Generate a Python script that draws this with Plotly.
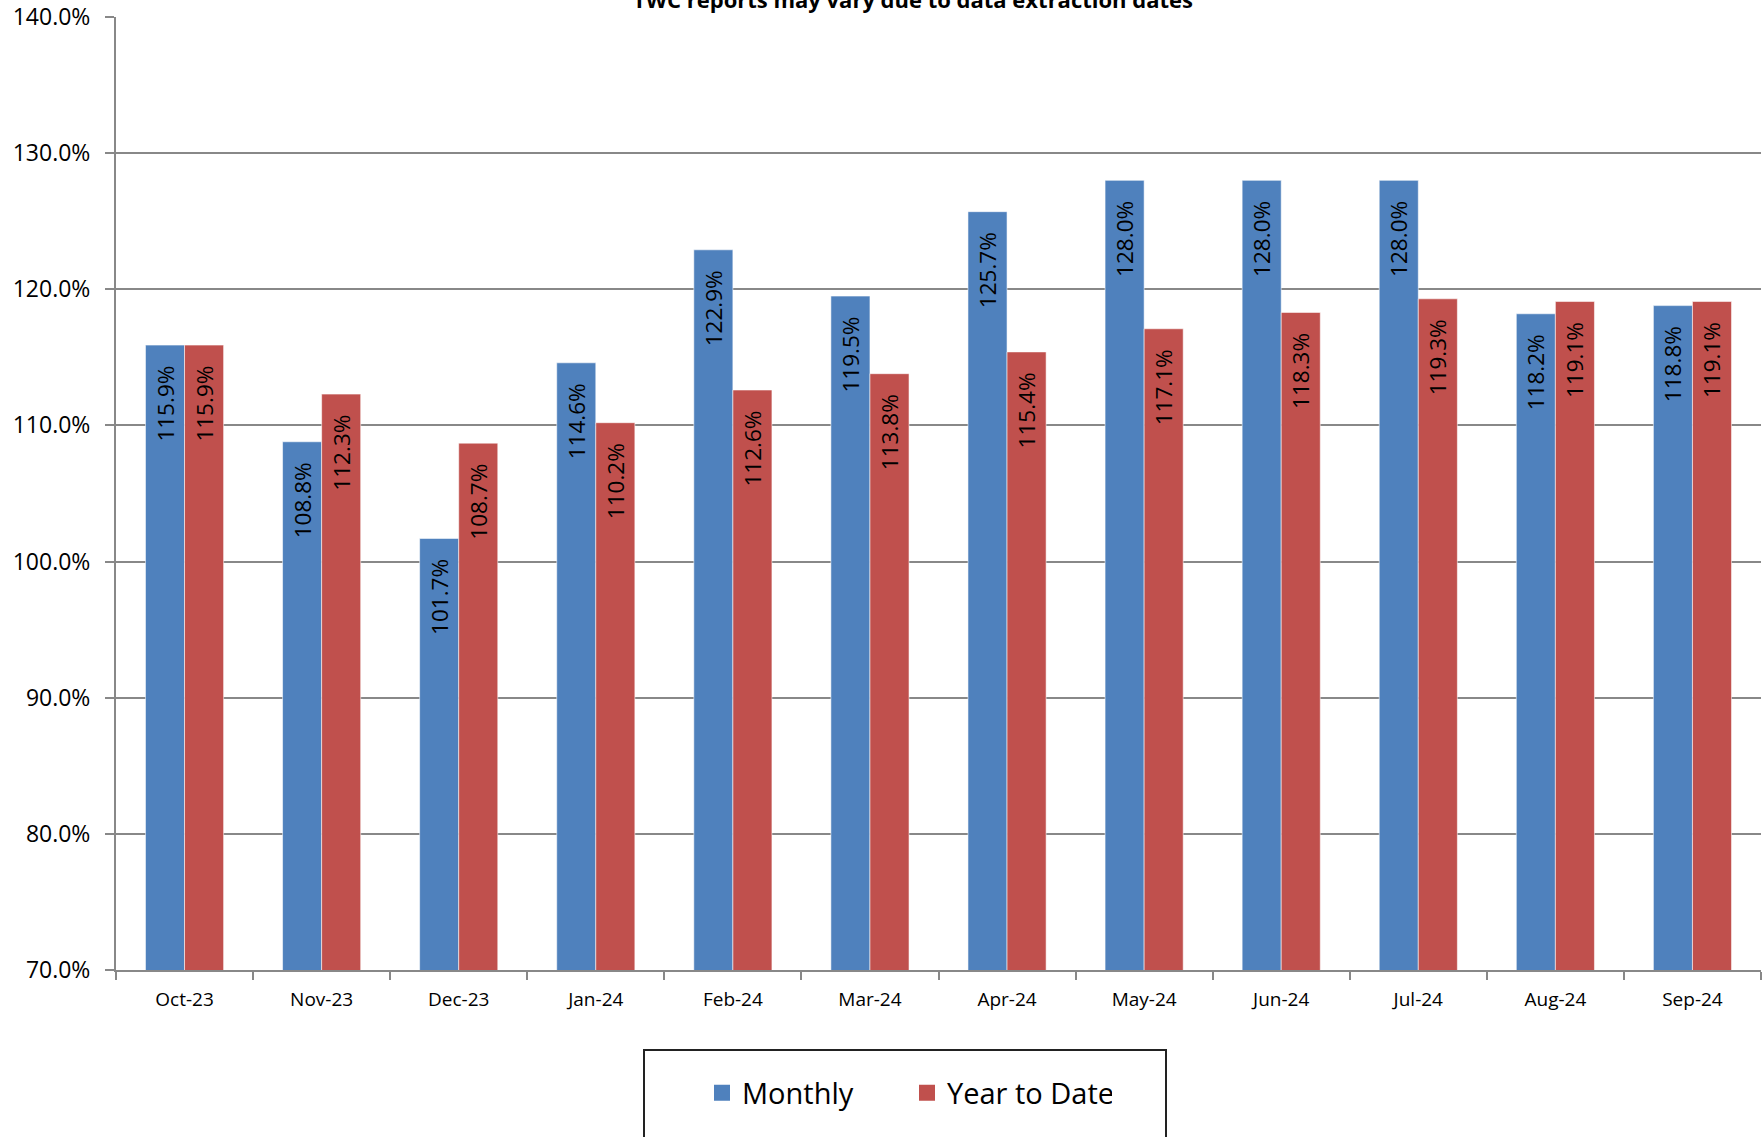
import plotly.graph_objects as go

months = ["Oct-23", "Nov-23", "Dec-23", "Jan-24", "Feb-24", "Mar-24",
          "Apr-24", "May-24", "Jun-24", "Jul-24", "Aug-24", "Sep-24"]
monthly = [115.9, 108.8, 101.7, 114.6, 122.9, 119.5, 125.7, 128.0, 128.0, 128.0, 118.2, 118.8]
year_to_date = [115.9, 112.3, 108.7, 110.2, 112.6, 113.8, 115.4, 117.1, 118.3, 119.3, 119.1, 119.1]
y_ticks = [70, 80, 90, 100, 110, 120, 130, 140]
y_tick_labels = [f"{v:.1f}%" for v in y_ticks]
title_text = "TWC reports may vary due to data extraction dates"

BLUE = "#4F81BD"
RED = "#C0504D"
FONT = "Open Sans"
W, H = 1762, 1137
L, R, T, B = 116, 1, 17, 167
pw, ph = W - L - R, H - T - B

fig = go.Figure()
for name, vals, col in [("Monthly", monthly, BLUE), ("Year to Date", year_to_date, RED)]:
    fig.add_trace(go.Bar(
        x=months, y=vals, name=name, showlegend=False,
        marker=dict(color=col, line=dict(color="rgba(255,255,255,0.55)", width=1)),
        texttemplate="%{y:.1f}%\u00a0\u00a0\u00a0", textposition="inside",
        insidetextanchor="end", textangle=-90,
        textfont=dict(family=FONT, size=22.5, color="black"),
        hoverinfo="skip",
    ))
    fig.add_trace(go.Scatter(
        x=[None], y=[None], mode="markers", name=name,
        marker=dict(symbol="square", size=16, color=col),
    ))

fig.update_layout(
    width=W, height=H,
    margin=dict(l=L, r=R, t=T, b=B, pad=0),
    paper_bgcolor="white", plot_bgcolor="white",
    barmode="group", bargap=0.43, bargroupgap=0,
    font=dict(family=FONT, color="black"),
    title=dict(text="<b>" + title_text + "</b>", x=(913) / W, xanchor="center",
               yref="container", y=1 - 8 / H, yanchor="bottom",
               font=dict(family=FONT, size=22, color="black")),
    legend=dict(orientation="h", x=(907 - L) / pw, xanchor="center",
                y=-(1093 - (T + ph)) / ph, yanchor="middle",
                font=dict(family=FONT, size=29, color="black"),
                entrywidth=160, entrywidthmode="pixels",
                bgcolor="rgba(0,0,0,0)", borderwidth=0, itemclick=False),
    shapes=[dict(type="rect", xref="paper", yref="paper",
                 x0=(644 - L) / pw, x1=(1166 - L) / pw,
                 y0=-(1145 - (T + ph)) / ph, y1=-(1050 - (T + ph)) / ph,
                 line=dict(color="#222222", width=2), fillcolor="rgba(0,0,0,0)")],
)

fig.update_yaxes(
    range=[70, 140], tickvals=y_ticks, ticktext=y_tick_labels,
    showgrid=True, gridcolor="#888888", gridwidth=1.8,
    showline=True, linecolor="#888888", linewidth=2,
    ticks="outside", ticklen=9, tickcolor="#888888", tickwidth=1.8,
    ticklabelstandoff=10, tickfont=dict(family=FONT, size=23, color="black"),
    zeroline=False,
)
fig.update_xaxes(
    showgrid=False, showline=True, linecolor="#888888", linewidth=2,
    ticks="outside", tickson="boundaries", ticklen=8, tickcolor="#888888", tickwidth=1.8,
    ticklabelstandoff=11, tickfont=dict(family=FONT, size=19, color="black"),
)

fig.write_html("out.html")
